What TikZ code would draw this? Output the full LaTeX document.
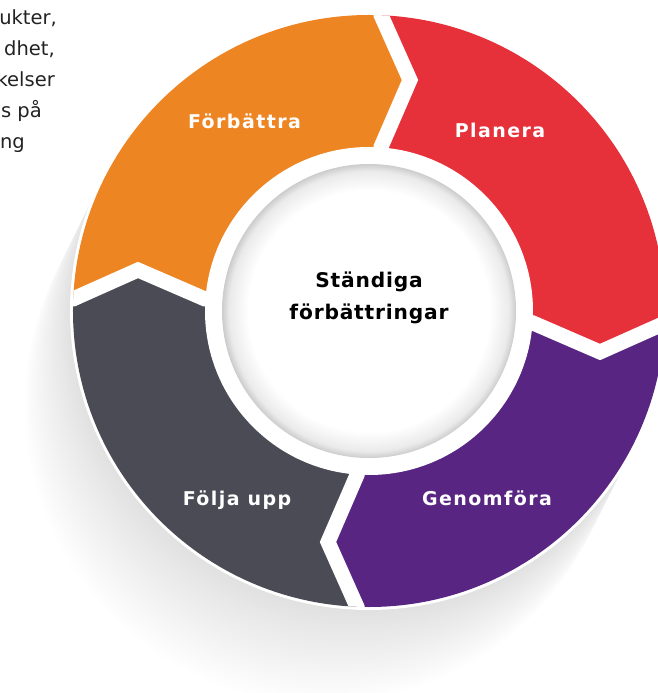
\documentclass[tikz,border=0pt]{standalone}
\usepackage{fontspec}
\setmainfont{DejaVu Sans}
\newfontfamily\lblfont{DejaVu Sans}[LetterSpace=7.5]
\newfontfamily\ctrfont{DejaVu Sans}[LetterSpace=4]
\definecolor{corange}{RGB}{238,133,35}
\definecolor{cred}{RGB}{230,48,58}
\definecolor{cpurple}{RGB}{88,38,130}
\definecolor{cgray}{RGB}{74,75,84}
\definecolor{ctext}{RGB}{34,34,34}
\pgfdeclareradialshading{diskshade}{\pgfpoint{0bp}{0bp}}{color(0bp)=(white); color(20.5bp)=(white); color(23.8bp)=(black!8); color(25bp)=(black!20); color(50bp)=(black!20)}
\begin{document}
\begin{tikzpicture}[x=1pt,y=1pt,
  seglabel/.style={font=\lblfont\bfseries\fontsize{19}{23}\selectfont, text=white, inner sep=0pt, anchor=base},
  ctrlabel/.style={font=\ctrfont\bfseries\fontsize{20.2}{24}\selectfont, text=black, inner sep=0pt, anchor=base},
  sidetext/.style={font=\fontsize{19.5}{23}\selectfont, text=ctext, inner sep=0pt, anchor=base east},
  gapline/.style={draw=white, line width=15pt, miter limit=10}]
\useasboundingbox (-369,-382) rectangle (288,311);
% cast shadow: opaque circles from far to near, fading outwards
\foreach \i in {60,59,...,1}{
  \pgfmathsetmacro{\shp}{12*(1-\i/60)}
  \fill[black!\shp] (-0.8*\i,-1.6*\i) circle (297);
}
% white outline
\fill[white] (0,0) circle (299);
% segments
\begin{scope}
  \clip (0,0) circle (296);
  \foreach \ang/\col in {0/corange, -90/cred, -180/cpurple, -270/cgray}{
    \fill[\col, rotate=\ang] (12,12) -- (12,164) -- (41,231) -- (12,296) -- (12,420)
      -- (-420,420) -- (-420,12) -- (-296,12) -- (-231,41) -- (-164,12) -- cycle;
  }
  \foreach \ang in {0,-90,-180,-270}{
    \draw[gapline, rotate=\ang] (12,120) -- (12,164) -- (41,231) -- (12,296) -- (12,340);
  }
\end{scope}
% inner white gap and disk
\fill[white] (0,0) circle (164);
\shade[shading=diskshade] (0,0) circle (147);
% labels
\node[seglabel] (fb) at (-124.5,182.7) {Förbättra};
\node[seglabel] (pl) at (131,173) {Planera};
\node[seglabel] (ge) at (118,-194) {Genomföra};
\node[seglabel] (fu) at (-132,-194) {Följa upp};
\node[ctrlabel] (c1) at (0,23) {Ständiga};
\node[ctrlabel] (c2) at (0,-9) {förbättringar};
% clipped paragraph at top left
\node[sidetext] (t1) at (-312,286) {ukter,};
\node[sidetext] (t2) at (-314,255) {dhet,};
\node[sidetext] (t3) at (-314,224) {kelser};
\node[sidetext] (t4) at (-327,193) {s på};
\node[sidetext] (t5) at (-344,162) {ng};
\end{tikzpicture}
\end{document}
